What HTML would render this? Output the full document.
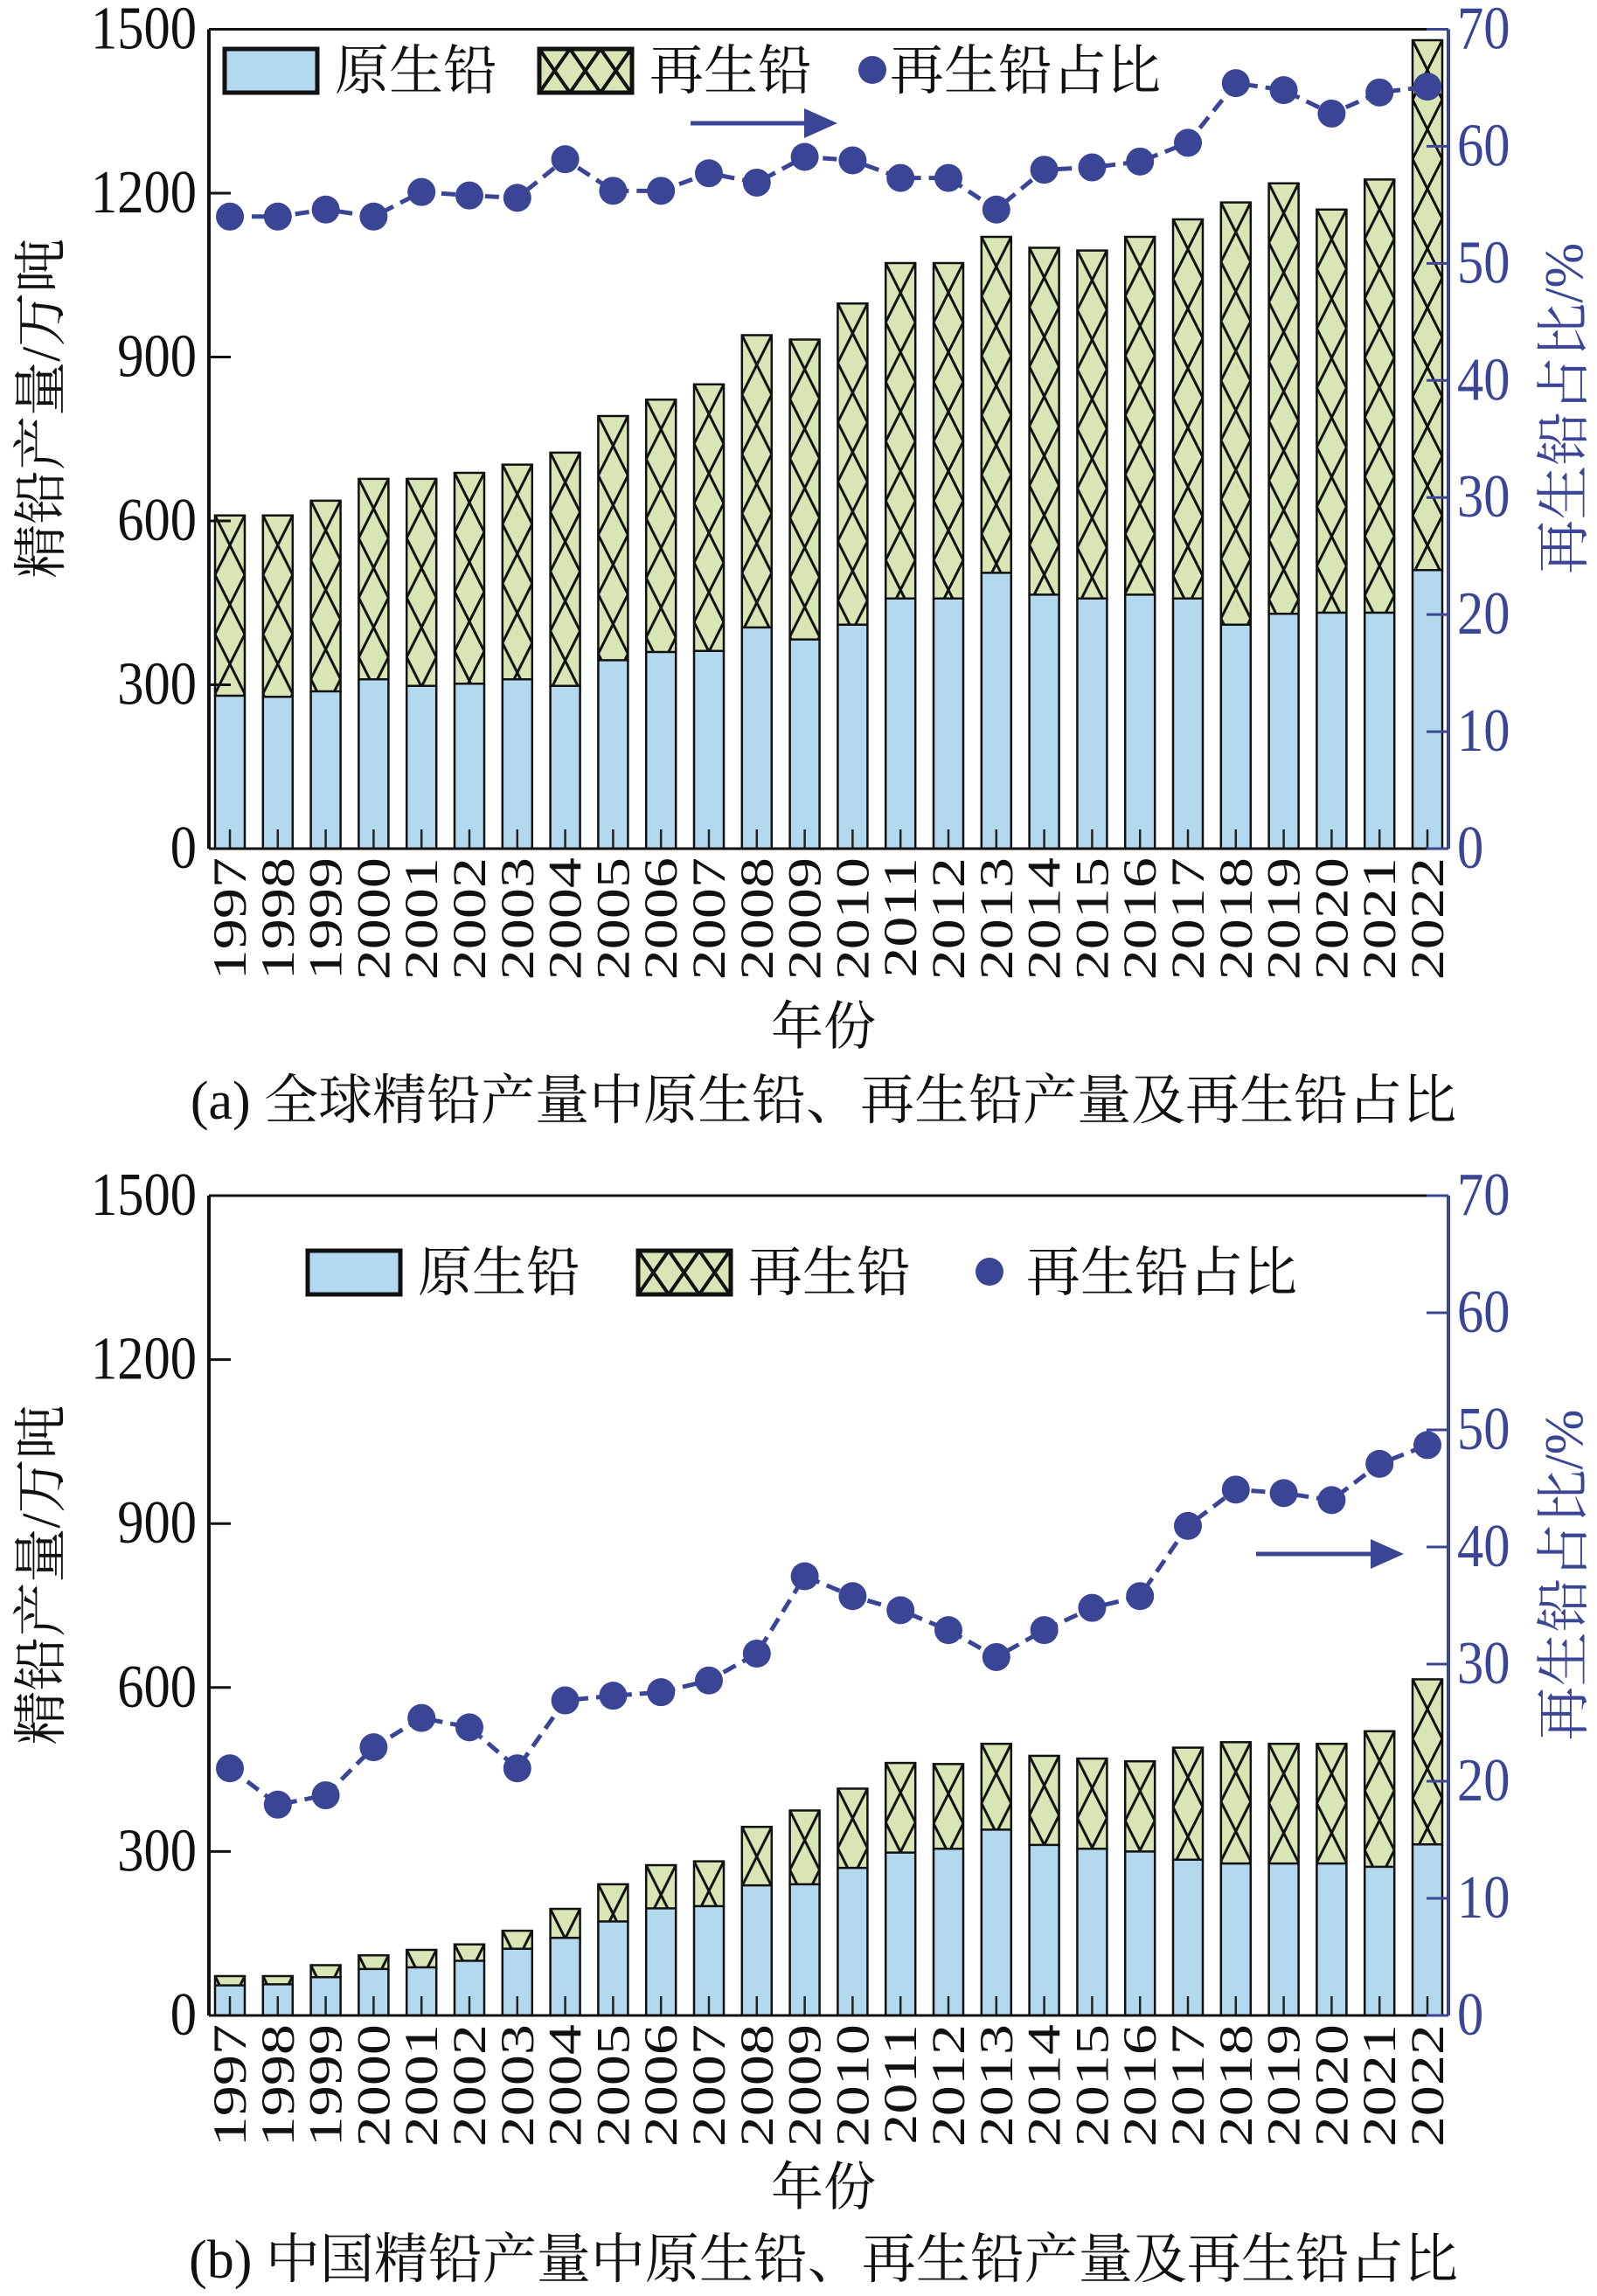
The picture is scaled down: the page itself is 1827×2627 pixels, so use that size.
<!DOCTYPE html>
<html><head><meta charset="utf-8"><style>
html,body{margin:0;padding:0;background:#fff;}
svg{display:block;font-family:"Liberation Serif","Noto Serif CJK SC",serif;}
</style></head><body>
<svg id="chart" width="1827" height="2627" viewBox="0 0 1827 2627" xmlns="http://www.w3.org/2000/svg">
<defs></defs>
</svg>
<script>
const years = ['1997','1998','1999','2000','2001','2002','2003','2004','2005','2006','2007','2008','2009','2010','2011','2012','2013','2014','2015','2016','2017','2018','2019','2020','2021','2022'];
const globalPrimary = [280,278,288,310,298,302,310,298,345,360,362,405,383,410,458,458,505,465,458,465,458,410,430,432,432,510];
const globalTotal = [610,610,637,677,677,688,703,725,792,822,850,940,932,998,1072,1072,1120,1100,1095,1120,1152,1183,1218,1170,1225,1480];
const globalRatio = [54.0,54.0,54.6,54.0,56.1,55.8,55.6,58.9,56.2,56.2,57.7,56.9,59.1,58.8,57.3,57.3,54.6,58.0,58.2,58.7,60.3,65.4,64.8,62.8,64.6,65.1];
const chinaPrimary = [55,57,70,85,88,100,122,142,172,196,200,238,240,270,298,305,340,312,305,300,285,278,278,278,272,313];
const chinaTotal = [72,72,92,110,120,130,155,195,240,275,282,345,375,415,462,460,497,475,470,465,490,500,497,497,520,615];
const chinaRatio = [21.1,18.0,18.8,22.9,25.4,24.6,21.1,26.9,27.3,27.6,28.6,30.9,37.5,35.8,34.6,32.9,30.6,32.9,34.8,35.8,41.8,44.9,44.6,44.0,47.1,48.7];
const leftTicks = [0,300,600,900,1200,1500];
const rightTicks = [0,10,20,30,40,50,60,70];

const NS='http://www.w3.org/2000/svg';
const svg=document.getElementById('chart');
const defs=svg.querySelector('defs');
function mk(tag,attrs,parent){const e=document.createElementNS(NS,tag);for(const k in attrs)e.setAttribute(k,attrs[k]);(parent||svg).appendChild(e);return e;}
const NAVY='#3b4596', BLUE='#b3d9ef', GREEN='#d8e6b5';
const L=239, R=1657, BW=34;
function xPos(i){return 263+i*((1633-263)/25);}

function drawPanel(p){
  const g=mk('g',{});
  
  
  const T=p.top,B=p.bottom,H=B-T;
  const yL=v=>B-v/1500*H, yR=v=>B-v/70*H;
  p.primary.forEach((pv,i)=>{
    const x=xPos(i)-BW/2;
    const r1=mk('rect',{x:x,y:yL(pv),width:BW,height:B-yL(pv),fill:BLUE,stroke:'none'},g);
    
    
    const pid=p.id+'h'+i;
    const pat=mk('pattern',{id:pid,patternUnits:'userSpaceOnUse',x:x,y:yL(p.total[i]),width:BW,height:68},defs);
    mk('rect',{x:0,y:0,width:BW,height:68,fill:GREEN},pat);
    mk('path',{d:`M0,0 L${BW},68 M${BW},0 L0,68`,stroke:'#111',"stroke-width":3,fill:'none'},pat);
    const r2=mk('rect',{x:x,y:yL(p.total[i]),width:BW,height:yL(pv)-yL(p.total[i]),fill:`url(#${pid})`,stroke:'#111','stroke-width':2.5},g);
    
    
    mk('line',{x1:x,y1:yL(pv),x2:x,y2:B,stroke:'#111','stroke-width':2.5},g);
    mk('line',{x1:x+BW,y1:yL(pv),x2:x+BW,y2:B,stroke:'#111','stroke-width':2.5},g);
    mk('line',{x1:xPos(i),y1:B,x2:xPos(i),y2:B-22,stroke:'#222','stroke-width':2.5},g);
    const t=mk('text',{x:0,y:0,'font-size':54,'text-anchor':'end',transform:`translate(${xPos(i)+18},${B+10}) rotate(-90) scale(1.3,1)`,fill:'#111'},g);
    t.textContent=years[i];
    
    
  });
  mk('line',{x1:L,y1:T,x2:R,y2:T,stroke:'#111','stroke-width':3},g);
  mk('line',{x1:L,y1:B,x2:R,y2:B,stroke:'#111','stroke-width':3},g);
  mk('line',{x1:L,y1:T,x2:L,y2:B,stroke:'#111','stroke-width':4},g);
  mk('line',{x1:R,y1:T,x2:R,y2:B,stroke:NAVY,'stroke-width':4},g);
  leftTicks.forEach(v=>{
    mk('line',{x1:L,y1:yL(v),x2:L+25,y2:yL(v),stroke:'#111','stroke-width':3},g);
    const t=mk('text',{x:0,y:0,'font-size':56,'text-anchor':'end',fill:'#111',transform:`translate(${L-14},${yL(v)+22}) scale(1.08,1.25)`},g);
    t.textContent=v;
    
    
  });
  rightTicks.forEach(v=>{
    mk('line',{x1:R-25,y1:yR(v),x2:R,y2:yR(v),stroke:NAVY,'stroke-width':3},g);
    const t=mk('text',{x:0,y:0,'font-size':56,'text-anchor':'start',fill:NAVY,transform:`translate(${R+10},${yR(v)+22}) scale(1.08,1.25)`},g);
    t.textContent=v;
    
    
  });
  const pts=p.ratio.map((v,i)=>xPos(i)+','+yR(v)).join(' ');
  const pl=mk('polyline',{points:pts,fill:'none',stroke:NAVY,'stroke-width':5,'stroke-dasharray':'16,9'},g);
  
  
  p.ratio.forEach((v,i)=>{
    const c=mk('circle',{cx:xPos(i),cy:yR(v),r:16,fill:NAVY},g);
    
    
  });
  const lg=p.legend;
  const l1=mk('rect',{x:lg.b1,y:lg.y-24,width:106,height:50,fill:BLUE,stroke:'#111','stroke-width':5},g);
  
  
  let t=mk('text',{x:lg.b1+126,y:lg.y+22,'font-size':62,fill:'#111'},g);t.textContent='原生铅';
  
  
  const pid=p.id+'leg';
  const pat=mk('pattern',{id:pid,patternUnits:'userSpaceOnUse',x:lg.b2,y:lg.y-24,width:35,height:50},defs);
  mk('rect',{x:0,y:0,width:35,height:50,fill:GREEN},pat);
  mk('path',{d:'M0,0 L35,50 M35,0 L0,50',stroke:'#111','stroke-width':4,fill:'none'},pat);
  const l2=mk('rect',{x:lg.b2,y:lg.y-24,width:106,height:50,fill:`url(#${pid})`,stroke:'#111','stroke-width':5},g);
  
  
  t=mk('text',{x:lg.b2+126,y:lg.y+22,'font-size':62,fill:'#111'},g);t.textContent='再生铅';
  
  
  const ld=mk('circle',{cx:lg.d,cy:lg.y,r:16,fill:NAVY},g);
  
  
  t=mk('text',{x:lg.d+lg.dt,y:lg.y+22,'font-size':62,fill:'#111'},g);t.textContent='再生铅占比';
  
  
  const a=p.arrow;
  mk('line',{x1:a.x1,y1:a.y,x2:a.x2-30,y2:a.y,stroke:NAVY,'stroke-width':5},g);
  const ah=mk('path',{d:`M${a.x2},${a.y} L${a.x2-38},${a.y-17} L${a.x2-38},${a.y+17} Z`,fill:NAVY},g);
  
  
  const mid=(T+B)/2;
  t=mk('text',{x:0,y:0,'font-size':62,'text-anchor':'middle',fill:'#111',transform:`translate(68,${mid-35}) rotate(-90)`},g);t.textContent='精铅产量/万吨';
  
  
  t=mk('text',{x:0,y:0,'font-size':62,'text-anchor':'middle',fill:NAVY,transform:`translate(1810,${mid-35}) rotate(-90)`},g);t.textContent='再生铅占比/%';
  
  
  t=mk('text',{x:942,y:p.xt,'font-size':60,'text-anchor':'middle',fill:'#111'},g);t.textContent='年份';
  
  
  t=mk('text',{x:942,y:p.cap,'font-size':62,'text-anchor':'middle',fill:'#111'},g);t.textContent=p.caption;
  
  
}
drawPanel({name:'global-panel',id:'a',top:33.5,bottom:971,primary:globalPrimary,total:globalTotal,ratio:globalRatio,
  legend:{y:80,b1:257,b2:617,d:998,dt:20},arrow:{x1:790,x2:958,y:141},xt:1195,cap:1280,
  caption:'(a) 全球精铅产量中原生铅、再生铅产量及再生铅占比'});
drawPanel({name:'china-panel',id:'b',top:1368,bottom:2306,primary:chinaPrimary,total:chinaTotal,ratio:chinaRatio,
  legend:{y:1455,b1:352,b2:730,d:1132,dt:42},arrow:{x1:1437,x2:1606,y:1778},xt:2523,cap:2606,
  caption:'(b) 中国精铅产量中原生铅、再生铅产量及再生铅占比'});
</script>
</body></html>
